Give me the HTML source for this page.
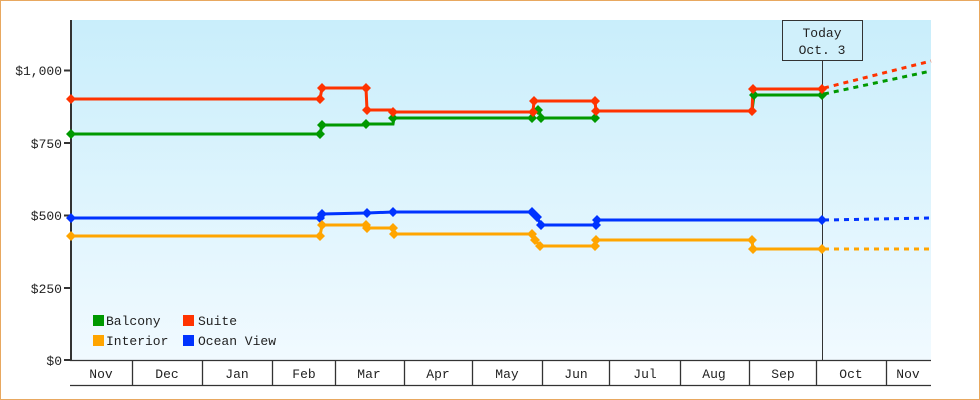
<!DOCTYPE html><html><head><style>body{margin:0}svg{display:block}text{font-family:"Liberation Mono","DejaVu Sans Mono",monospace;font-size:13px;fill:#222}</style></head><body>
<svg width="980" height="400" xmlns="http://www.w3.org/2000/svg">
<defs><linearGradient id="g" x1="0" y1="0" x2="0" y2="1"><stop offset="0" stop-color="#c9eefb"/><stop offset="1" stop-color="#f1faff"/></linearGradient></defs>
<rect x="0.5" y="0.5" width="979" height="399" fill="#fff" stroke="#e8a860"/>
<rect x="71" y="20" width="860" height="340" fill="url(#g)"/>
<g stroke="#333" stroke-width="2"><line x1="71" y1="20" x2="71" y2="361"/>
<line x1="64" y1="70.5" x2="71" y2="70.5"/><line x1="64" y1="143" x2="71" y2="143"/><line x1="64" y1="215.5" x2="71" y2="215.5"/><line x1="64" y1="288" x2="71" y2="288"/><line x1="64" y1="360" x2="71" y2="360"/></g>
<g text-anchor="end"><text x="62" y="75">$1,000</text><text x="62" y="148">$750</text><text x="62" y="220">$500</text><text x="62" y="293">$250</text><text x="62" y="365">$0</text></g>
<g stroke="#333" stroke-width="1.3"><line x1="70" y1="360.5" x2="931" y2="360.5"/><line x1="70" y1="385.5" x2="931" y2="385.5"/>
<line x1="132.5" y1="360" x2="132.5" y2="385"/><line x1="202.5" y1="360" x2="202.5" y2="385"/><line x1="272.5" y1="360" x2="272.5" y2="385"/><line x1="335.5" y1="360" x2="335.5" y2="385"/><line x1="404.5" y1="360" x2="404.5" y2="385"/><line x1="472.5" y1="360" x2="472.5" y2="385"/><line x1="542.5" y1="360" x2="542.5" y2="385"/><line x1="609.5" y1="360" x2="609.5" y2="385"/><line x1="680.5" y1="360" x2="680.5" y2="385"/><line x1="749.5" y1="360" x2="749.5" y2="385"/><line x1="816.5" y1="360" x2="816.5" y2="385"/><line x1="886.5" y1="360" x2="886.5" y2="385"/></g>
<g text-anchor="middle"><text x="101" y="378">Nov</text><text x="167" y="378">Dec</text><text x="237" y="378">Jan</text><text x="304" y="378">Feb</text><text x="369" y="378">Mar</text><text x="438" y="378">Apr</text><text x="507" y="378">May</text><text x="576" y="378">Jun</text><text x="645" y="378">Jul</text><text x="714" y="378">Aug</text><text x="783" y="378">Sep</text><text x="851" y="378">Oct</text><text x="908" y="378">Nov</text></g>
<line x1="822.5" y1="60" x2="822.5" y2="360" stroke="#333"/>
<rect x="782.5" y="20.5" width="80" height="40" fill="#d0f0fb" stroke="#333"/>
<text x="822" y="37" text-anchor="middle">Today</text><text x="822" y="54" text-anchor="middle">Oct. 3</text>
<g fill="none" stroke-width="3">
<polyline stroke="#009900" points="71,134 320,134 322,125 366,125 367,124 393,124 394,118 532,118 536,110 539,110 541,118 595,118 596,111 752,111 754,95 822,95"/>
<polyline stroke="#FF3300" points="71,99 320,99 322,88 366,88 367,110 393,110 394,112 533,112 534,101 595,101 596,111 752,111 753,89 822,89"/>
<polyline stroke="#0033FF" points="71,218 320,218 322,214 367,213 393,212 532,212 537,217 541,225 596,225 597,220 822,220"/>
<polyline stroke="#FFA500" points="71,236 320,236 322,225 366,225 367,228 393,228 394,234 532,234 535,240 540,246 595,246 596,240 752,240 753,249 822,249"/>
<g stroke-dasharray="5,5"><line x1="824" y1="94" x2="931" y2="71" stroke="#009900"/><line x1="824" y1="88" x2="931" y2="61" stroke="#FF3300"/><line x1="824" y1="220" x2="931" y2="218" stroke="#0033FF"/><line x1="824" y1="249" x2="931" y2="249" stroke="#FFA500"/></g></g>
<g>
<g fill="#009900"><path d="M71,129l5,5l-5,5l-5,-5z M320,129l5,5l-5,5l-5,-5z M322,120l5,5l-5,5l-5,-5z M366,119l5,5l-5,5l-5,-5z M393,113l5,5l-5,5l-5,-5z M532,113l5,5l-5,5l-5,-5z M538,105l5,5l-5,5l-5,-5z M541,113l5,5l-5,5l-5,-5z M595,113l5,5l-5,5l-5,-5z M754,90l5,5l-5,5l-5,-5z M822,90l5,5l-5,5l-5,-5z"/></g>
<g fill="#FF3300"><path d="M71,94l5,5l-5,5l-5,-5z M320,94l5,5l-5,5l-5,-5z M322,83l5,5l-5,5l-5,-5z M366,83l5,5l-5,5l-5,-5z M367,105l5,5l-5,5l-5,-5z M393,107l5,5l-5,5l-5,-5z M533,107l5,5l-5,5l-5,-5z M534,96l5,5l-5,5l-5,-5z M595,96l5,5l-5,5l-5,-5z M596,106l5,5l-5,5l-5,-5z M752,106l5,5l-5,5l-5,-5z M753,84l5,5l-5,5l-5,-5z M822,84l5,5l-5,5l-5,-5z"/></g>
<g fill="#0033FF"><path d="M71,213l5,5l-5,5l-5,-5z M320,213l5,5l-5,5l-5,-5z M322,209l5,5l-5,5l-5,-5z M367,208l5,5l-5,5l-5,-5z M393,207l5,5l-5,5l-5,-5z M532,207l5,5l-5,5l-5,-5z M537,212l5,5l-5,5l-5,-5z M541,220l5,5l-5,5l-5,-5z M596,220l5,5l-5,5l-5,-5z M597,215l5,5l-5,5l-5,-5z M822,215l5,5l-5,5l-5,-5z"/></g>
<g fill="#FFA500"><path d="M71,231l5,5l-5,5l-5,-5z M320,231l5,5l-5,5l-5,-5z M322,220l5,5l-5,5l-5,-5z M366,220l5,5l-5,5l-5,-5z M367,223l5,5l-5,5l-5,-5z M393,223l5,5l-5,5l-5,-5z M394,229l5,5l-5,5l-5,-5z M532,229l5,5l-5,5l-5,-5z M535,235l5,5l-5,5l-5,-5z M540,241l5,5l-5,5l-5,-5z M595,241l5,5l-5,5l-5,-5z M596,235l5,5l-5,5l-5,-5z M752,235l5,5l-5,5l-5,-5z M753,244l5,5l-5,5l-5,-5z M822,244l5,5l-5,5l-5,-5z"/></g>
</g>
<rect x="93" y="315" width="11" height="11" fill="#009900"/><text x="106" y="325">Balcony</text>
<rect x="183" y="315" width="11" height="11" fill="#FF3300"/><text x="198" y="325">Suite</text>
<rect x="93" y="335" width="11" height="11" fill="#FFA500"/><text x="106" y="345">Interior</text>
<rect x="183" y="335" width="11" height="11" fill="#0033FF"/><text x="198" y="345">Ocean View</text>
</svg></body></html>
